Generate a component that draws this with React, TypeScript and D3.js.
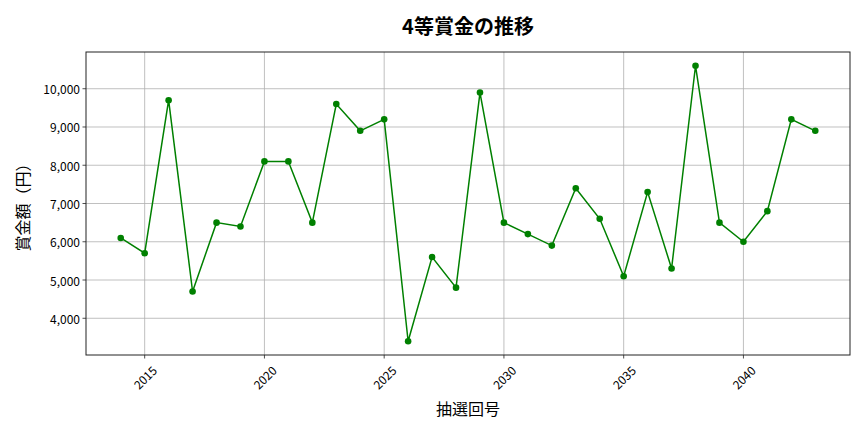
import React, { useEffect, useRef } from "react";
import * as d3 from "d3";

const W = 864;
const H = 432;
const FONT = "'Noto Sans CJK JP', 'Noto Sans', sans-serif";

// draw numbers (抽選回号) and 4th prize amounts (円)
const draws = [
  2014, 2015, 2016, 2017, 2018, 2019, 2020, 2021, 2022, 2023,
  2024, 2025, 2026, 2027, 2028, 2029, 2030, 2031, 2032, 2033,
  2034, 2035, 2036, 2037, 2038, 2039, 2040, 2041, 2042, 2043,
];
const prizes = [
  6100, 5700, 9700, 4700, 6500, 6400, 8100, 8100, 6500, 9600,
  8900, 9200, 3400, 5600, 4800, 9900, 6500, 6200, 5900, 7400,
  6600, 5100, 7300, 5300, 10600, 6500, 6000, 6800, 9200, 8900,
];
const xTicks = [2015, 2020, 2025, 2030, 2035, 2040];
const yTicks = [4000, 5000, 6000, 7000, 8000, 9000, 10000];

const TITLE = "4等賞金の推移";
const X_LABEL = "抽選回号";
const Y_LABEL = "賞金額（円）";

export default function App() {
  const svgRef = useRef<SVGSVGElement>(null);

  useEffect(() => {
    if (!svgRef.current) return;
    const svg = d3.select(svgRef.current);
    svg.selectAll("*").remove();

    const margin = { top: 52, right: 14, bottom: 77, left: 86 };
    const w = W - margin.left - margin.right;
    const h = H - margin.top - margin.bottom;

    // matplotlib-like 5% padding on both axes
    const [x0, x1] = d3.extent(draws) as [number, number];
    const [y0, y1] = d3.extent(prizes) as [number, number];
    const px = (x1 - x0) * 0.05;
    const py = (y1 - y0) * 0.05;
    const x = d3.scaleLinear().domain([x0 - px, x1 + px]).range([0, w]);
    const y = d3.scaleLinear().domain([y0 - py, y1 + py]).range([h, 0]);

    svg.append("rect").attr("width", W).attr("height", H).attr("fill", "#fff");

    const g = svg.append("g").attr("transform", `translate(${margin.left},${margin.top})`);

    // grid
    xTicks.forEach(t => {
      g.append("line")
        .attr("x1", x(t)).attr("x2", x(t)).attr("y1", 0).attr("y2", h)
        .attr("stroke", "#b0b0b0").attr("stroke-width", 0.8);
    });
    yTicks.forEach(t => {
      g.append("line")
        .attr("x1", 0).attr("x2", w).attr("y1", y(t)).attr("y2", y(t))
        .attr("stroke", "#b0b0b0").attr("stroke-width", 0.8);
    });

    // frame
    g.append("rect")
      .attr("width", w).attr("height", h)
      .attr("fill", "none").attr("stroke", "#222").attr("stroke-width", 1);

    // x ticks
    xTicks.forEach(t => {
      g.append("line")
        .attr("x1", x(t)).attr("x2", x(t)).attr("y1", h).attr("y2", h + 3.5)
        .attr("stroke", "#222").attr("stroke-width", 0.8);
      g.append("text")
        .attr("transform", `translate(${x(t)},${h + 22}) rotate(-45)`)
        .attr("text-anchor", "middle")
        .attr("dominant-baseline", "central")
        .attr("font-size", 12)
        .attr("font-family", FONT)
        .attr("fill", "#000")
        .text(String(t));
    });

    // y ticks
    const fmt = d3.format(",");
    yTicks.forEach(t => {
      g.append("line")
        .attr("x1", -3.5).attr("x2", 0).attr("y1", y(t)).attr("y2", y(t))
        .attr("stroke", "#222").attr("stroke-width", 0.8);
      g.append("text")
        .attr("x", -6).attr("y", y(t))
        .attr("text-anchor", "end")
        .attr("dominant-baseline", "central")
        .attr("font-size", 12)
        .attr("font-family", FONT)
        .attr("fill", "#000")
        .text(fmt(t));
    });

    // series line
    const line = d3.line<number>()
      .x((_, i) => x(draws[i]))
      .y(d => y(d));
    g.append("path")
      .datum(prizes)
      .attr("d", line)
      .attr("fill", "none")
      .attr("stroke", "#008000")
      .attr("stroke-width", 1.5);

    g.selectAll("circle.pt")
      .data(prizes)
      .join("circle")
      .attr("class", "pt")
      .attr("cx", (_, i) => x(draws[i]))
      .attr("cy", d => y(d))
      .attr("r", 3.3)
      .attr("fill", "#008000");

    // title and axis labels
    svg.append("text")
      .attr("x", margin.left + w / 2).attr("y", 25)
      .attr("text-anchor", "middle").attr("dominant-baseline", "central")
      .attr("font-size", 20).attr("font-weight", "bold")
      .attr("font-family", FONT).attr("fill", "#000")
      .text(TITLE);

    svg.append("text")
      .attr("x", margin.left + w / 2).attr("y", 408)
      .attr("text-anchor", "middle").attr("dominant-baseline", "central")
      .attr("font-size", 16)
      .attr("font-family", FONT).attr("fill", "#000")
      .text(X_LABEL);

    svg.append("text")
      .attr("transform", `translate(22,${margin.top + h / 2}) rotate(-90)`)
      .attr("text-anchor", "middle").attr("dominant-baseline", "central")
      .attr("font-size", 16)
      .attr("font-family", FONT).attr("fill", "#000")
      .text(Y_LABEL);
  }, []);

  return (
    <div style={{ position: "fixed", left: 0, top: 0, width: W, height: H }}>
      <svg ref={svgRef} width={W} height={H} style={{ display: "block" }} />
    </div>
  );
}
